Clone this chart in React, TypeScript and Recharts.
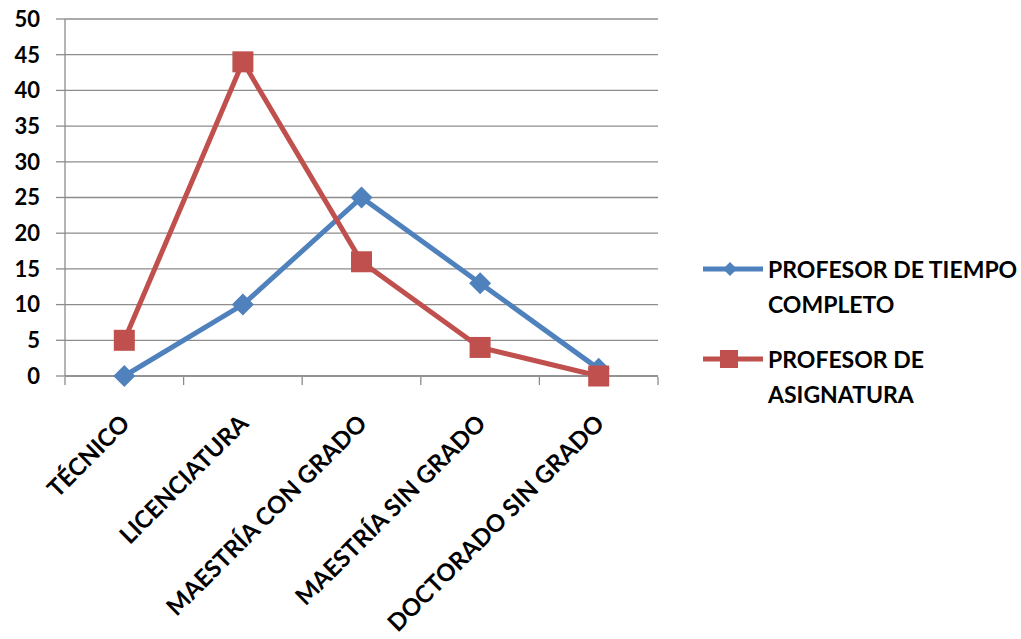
import { CartesianGrid, Line, LineChart, XAxis, YAxis } from "recharts";

const CATEGORIES = [
  "TÉCNICO",
  "LICENCIATURA",
  "MAESTRÍA CON GRADO",
  "MAESTRÍA SIN GRADO",
  "DOCTORADO SIN GRADO",
];
const TIEMPO_COMPLETO = [0, 10, 25, 13, 1];
const ASIGNATURA = [5, 44, 16, 4, 0];
const Y_TICKS = [0, 5, 10, 15, 20, 25, 30, 35, 40, 45, 50];
const BOUNDARY_TICKS = [0, 1, 2, 3, 4, 5];

const BLUE = "#4F81BD";
const RED = "#C0504D";
const GRID = "#8C8C8C";
const FONT = "Lato, 'Open Sans', sans-serif";

// pos = centre of each category slot, used only by the boundary-tick axis
const data = CATEGORIES.map((cat, i) => ({
  cat,
  pos: i + 0.5,
  tc: TIEMPO_COMPLETO[i],
  as: ASIGNATURA[i],
}));

function Diamond({ cx, cy }: any) {
  if (cx == null || cy == null) return null;
  const r = 11;
  return (
    <path
      d={`M${cx},${cy - r} L${cx + r},${cy} L${cx},${cy + r} L${cx - r},${cy} Z`}
      fill={BLUE}
    />
  );
}

function Square({ cx, cy }: any) {
  if (cx == null || cy == null) return null;
  const s = 21;
  return <rect x={cx - s / 2} y={cy - s / 2} width={s} height={s} fill={RED} />;
}

function CatTick({ x, y, payload }: any) {
  const bx = x + 7;
  const by = y + 49;
  return (
    <text
      x={bx}
      y={by}
      transform={`rotate(-45, ${bx}, ${by})`}
      textAnchor="end"
      fontFamily={FONT}
      fontWeight={700}
      fontSize={24}
      fill="#000"
    >
      {payload.value}
    </text>
  );
}

const NoLabel = () => <g />;

function LegendRow({ color, marker, lines }: { color: string; marker: "d" | "s"; lines: string[] }) {
  return (
    <div style={{ display: "flex", alignItems: "flex-start" }}>
      <svg width={68} height={34} style={{ flex: "none" }}>
        <line x1={3} y1={17} x2={63} y2={17} stroke={color} strokeWidth={5} />
        {marker === "d" ? (
          <path d="M30,10 L37,17 L30,24 L23,17 Z" fill={color} />
        ) : (
          <rect x={20} y={8} width={18} height={18} fill={color} />
        )}
      </svg>
      <div style={{ lineHeight: "35px" }}>
        {lines.map((l) => (
          <div key={l}>{l}</div>
        ))}
      </div>
    </div>
  );
}

export default function App() {
  return (
    <div
      style={{
        position: "absolute",
        left: 0,
        top: 0,
        width: 1021,
        height: 639,
        background: "#fff",
        overflow: "hidden",
      }}
    >
      <LineChart
        width={1021}
        height={639}
        data={data}
        margin={{ top: 19, right: 363, bottom: 261, left: 0 }}
      >
        <CartesianGrid vertical={false} stroke={GRID} strokeWidth={1.3} />
        <XAxis
          dataKey="cat"
          scale="band"
          height={1}
          interval={0}
          tickLine={false}
          tickSize={0}
          tickMargin={0}
          axisLine={{ stroke: GRID, strokeWidth: 1.3 }}
          tick={<CatTick />}
        />
        <XAxis
          xAxisId="b"
          dataKey="pos"
          type="number"
          domain={[0, 5]}
          allowDataOverflow
          ticks={BOUNDARY_TICKS}
          interval={0}
          height={1}
          tick={<NoLabel />}
          tickSize={8}
          tickLine={{ stroke: GRID, strokeWidth: 1.3 }}
          axisLine={false}
        />
        <YAxis
          width={65}
          domain={[0, 50]}
          ticks={Y_TICKS}
          interval={0}
          tickSize={9}
          tickMargin={16}
          axisLine={{ stroke: GRID, strokeWidth: 1.3 }}
          tickLine={{ stroke: GRID, strokeWidth: 1.3 }}
          tick={{ fontFamily: FONT, fontWeight: 700, fontSize: 22, fill: "#000" }}
        />
        <Line
          dataKey="tc"
          stroke={BLUE}
          strokeWidth={5}
          dot={<Diamond />}
          activeDot={false}
          isAnimationActive={false}
        />
        <Line
          dataKey="as"
          stroke={RED}
          strokeWidth={5}
          dot={<Square />}
          activeDot={false}
          isAnimationActive={false}
        />
      </LineChart>
      <div
        style={{
          position: "absolute",
          left: 700,
          top: 252,
          fontFamily: FONT,
          fontWeight: 700,
          fontSize: 23,
          color: "#000",
          display: "flex",
          flexDirection: "column",
          gap: 20,
          whiteSpace: "nowrap",
        }}
      >
        <LegendRow color={BLUE} marker="d" lines={["PROFESOR DE TIEMPO", "COMPLETO"]} />
        <LegendRow color={RED} marker="s" lines={["PROFESOR DE", "ASIGNATURA"]} />
      </div>
    </div>
  );
}
